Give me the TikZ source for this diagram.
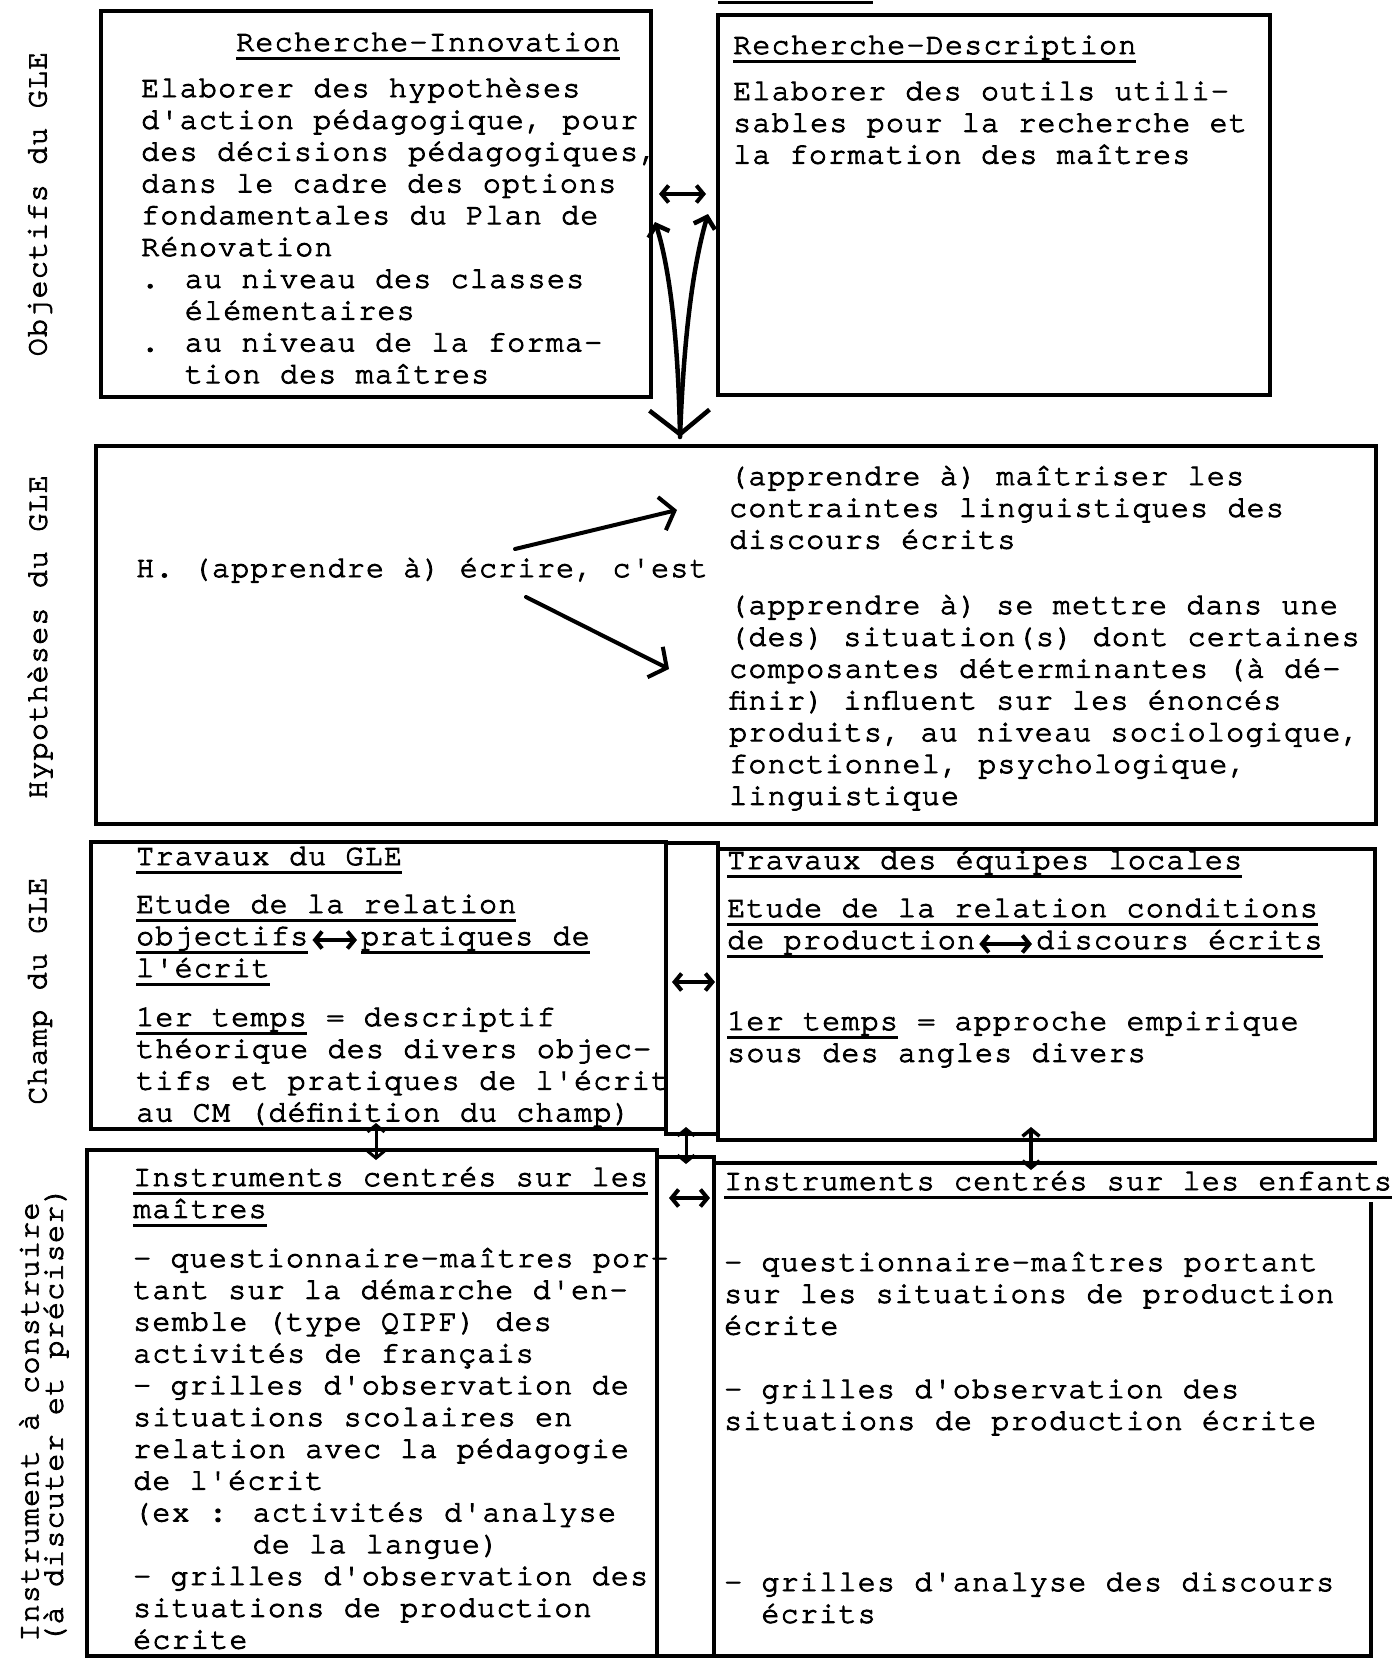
\documentclass[tikz,border=0pt]{standalone}
\usepackage{fontspec}
\usetikzlibrary{arrows.meta}
\newfontfamily\tw{texgyrecursor-regular.otf}[LetterSpace=4.2, FakeBold=3]
\newsavebox\ulbox
\newcommand\ul[1]{\sbox\ulbox{#1}\rlap{\smash{\rule[-9pt]{\wd\ulbox}{2.6pt}}}\usebox\ulbox}
\newcommand\blk[1]{\vtop{\baselineskip=31.8pt\lineskiplimit=-100pt\lineskip=0pt\halign{##\hfil\cr#1\crcr}}}
\tikzset{
  bx/.style={draw, line width=3.5pt, inner sep=0pt, outer sep=0pt, anchor=north west},
  txt/.style={font=\tw\fontsize{30}{31.8}\selectfont, inner sep=0pt, anchor=base west},
  side/.style={font=\tw\fontsize{30}{31.8}\selectfont, inner sep=0pt, rotate=90, anchor=center},
  link/.style={line width=4pt, line cap=round, line join=round},
  ulline/.style={line width=2.6pt},
  barbS/.tip={Straight Barb[length=7pt,width=17pt]},
  barbM/.tip={Straight Barb[length=10pt,width=22pt]},
  barbL/.tip={Straight Barb[length=13pt,width=34pt]},
  barbB/.tip={Straight Barb[length=24pt,width=60pt]}
}
\begin{document}
\begin{tikzpicture}[x=1pt,y=-1pt]
\fill[white] (0,0) rectangle (1400,1666);
\useasboundingbox (0,0) rectangle (1400,1666);

% stray top line
\draw[line width=3pt] (718,2) -- (873,2);

% boxes
\node[bx, minimum width=550pt, minimum height=386pt] (ri) at (101,11) {};
\node[bx, minimum width=552pt, minimum height=380pt] (rd) at (718,15) {};
\node[bx, minimum width=1280pt, minimum height=378pt] (hyp) at (96,446) {};
\node[bx, minimum width=575pt, minimum height=287pt] (chL) at (91,842) {};
\node[bx, minimum width=52pt, minimum height=291pt] (chM) at (666,843) {};
\node[bx, minimum width=657pt, minimum height=291pt] (chR) at (718,849) {};
\node[bx, minimum width=570pt, minimum height=506pt] (inL) at (87,1150) {};
\node[bx, minimum width=57pt, minimum height=499pt] (inM) at (657,1157) {};
\draw[line width=3.5pt] (1377,1163) -- (714,1163) -- (714,1656) -- (1371,1656) -- (1371,1202);

% side labels
\node[side] (s1) at (40,204) {Objectifs du GLE};
\node[side] (s2) at (40,637) {Hypothèses du GLE};
\node[side] (s3) at (40,991) {Champ du GLE};
\node[side] (s4) at (29,1422) {Instrument à construire};
\node[side] (s5) at (56,1415) {(à discuter et préciser)};

% Recherche-Innovation
\node[txt] (ritit) at (236,51) {\ul{Recherche-Innovation}};
\node[txt] (ritx) at (141,97) {\blk{Elaborer des hypothèses\cr
d'action pédagogique, pour\cr
des décisions pédagogiques,\cr
dans le cadre des options\cr
fondamentales du Plan de\cr
Rénovation\cr
. au niveau des classes\cr
\phantom{. }élémentaires\cr
. au niveau de la forma-\cr
\phantom{. }tion des maîtres}};

% Recherche-Description
\node[txt] (rdtit) at (733,54) {\ul{Recherche-Description}};
\node[txt] (rdtx) at (733,100) {\blk{Elaborer des outils utili-\cr
sables pour la recherche et\cr
la formation des maîtres}};

% Hypotheses
\node[txt] (hsrc) at (136,577) {H. (apprendre à) écrire, c'est};
\node[txt] (h1) at (729,485) {\blk{(apprendre à) maîtriser les\cr
contraintes linguistiques des\cr
discours écrits}};
\node[txt] (h2) at (729,614) {\blk{(apprendre à) se mettre dans une\cr
(des) situation(s) dont certaines\cr
composantes déterminantes (à dé-\cr
finir) influent sur les énoncés\cr
produits, au niveau sociologique,\cr
fonctionnel, psychologique,\cr
linguistique}};

% Champ left
\node[txt] (clt) at (136,865) {\ul{Travaux du GLE}};
\node[txt] (cl1) at (136,913) {\ul{Etude de la relation}};
\node[txt] (obj) at (136,945) {\ul{objectifs}};
\node[txt] (prat) at (361,945) {\ul{pratiques de}};
\node[txt] (ecr) at (136,977) {\ul{l'écrit}};
\node[txt] (cl2) at (136,1026) {\blk{\ul{1er temps} = descriptif\cr
théorique des divers objec-\cr
tifs et pratiques de l'écrit\cr
au CM (définition du champ)}};

% Champ right
\node[txt] (crt) at (727,869) {\ul{Travaux des équipes locales}};
\node[txt] (cr1) at (727,917) {\ul{Etude de la relation conditions}};
\node[txt] (prod) at (727,949) {de production};
\node[txt] (disc) at (1036,949) {discours écrits};
\draw[ulline] ([yshift=-7.7pt]prod.base west) -- ([yshift=-7.7pt]disc.base east);
\node[txt] (cr2) at (727,1030) {\blk{\ul{1er temps} = approche empirique\cr
sous des angles divers}};

% Instruments left
\node[txt] (ilt) at (133,1186) {\blk{\ul{Instruments centrés sur les}\cr
\ul{maîtres}}};
\node[txt] (il1) at (133,1267) {\blk{- questionnaire-maîtres por-\cr
tant sur la démarche d'en-\cr
semble (type QIPF) des\cr
activités de français\cr
- grilles d'observation de\cr
situations scolaires en\cr
relation avec la pédagogie\cr
de l'écrit\cr
(ex : activités d'analyse\cr
\phantom{(ex : }de la langue)\cr
- grilles d'observation des\cr
situations de production\cr
écrite}};

% Instruments right
\node[txt] (irt) at (724,1190) {\ul{Instruments centrés sur les enfants}};
\node[txt] (ir1) at (724,1271) {\blk{- questionnaire-maîtres portant\cr
sur les situations de production\cr
écrite}};
\node[txt] (ir2) at (724,1398) {\blk{- grilles d'observation des\cr
situations de production écrite}};
\node[txt] (ir3) at (724,1591) {\blk{- grilles d'analyse des discours\cr
\phantom{- }écrits}};

% connectors
\coordinate (a1) at (659,194); \coordinate (a2) at (706,194);
\draw[link, barbS-barbS] (a1) -- (a2);
\coordinate (cb) at (680,437); \coordinate (cA) at (655,222); \coordinate (cB) at (708,214);
\draw[link, line width=4.5pt, barbB-barbM] (cb) .. controls (678,330) and (668,262) .. (cA);
\draw[link, line width=4.5pt, -barbM] (cb) .. controls (684,330) and (694,262) .. (cB);

\coordinate (hs1) at (515,549); \coordinate (he1) at (677,510);
\coordinate (hs2) at (526,597); \coordinate (he2) at (669,669);
\draw[link, -barbL] (hs1) -- (he1);
\draw[link, -barbL] (hs2) -- (he2);

\draw[link, barbS-barbS] ([shift={(4pt,5pt)}]obj.base east) -- ([shift={(-4pt,5pt)}]prat.base west);
\draw[link, barbS-barbS] ([shift={(4pt,5pt)}]prod.base east) -- ([shift={(-4pt,5pt)}]disc.base west);

\coordinate (m1a) at (672,982); \coordinate (m1b) at (715,982);
\draw[link, barbS-barbS] (m1a) -- (m1b);
\coordinate (m2a) at (669,1198); \coordinate (m2b) at (710,1198);
\draw[link, barbS-barbS] (m2a) -- (m2b);

\coordinate (v1a) at (376,1123); \coordinate (v1b) at (376,1160);
\coordinate (v2a) at (686,1127); \coordinate (v2b) at (686,1164);
\coordinate (v3a) at (1031,1127); \coordinate (v3b) at (1031,1170);
\draw[link, line width=3pt, barbS-barbS] (v1a) -- (v1b);
\draw[link, line width=3pt, barbS-barbS] (v2a) -- (v2b);
\draw[link, line width=3.5pt, barbS-barbS] (v3a) -- (v3b);
\end{tikzpicture}
\end{document}
